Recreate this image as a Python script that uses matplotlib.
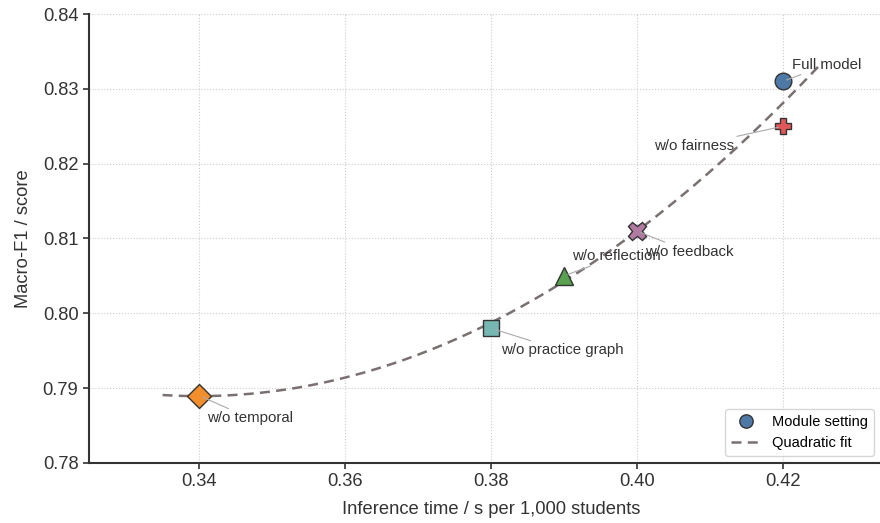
import matplotlib.pyplot as plt
import numpy as np

plt.rcParams['font.family'] = ['Liberation Sans', 'DejaVu Sans']

# data
labels = ['Full model', 'w/o fairness', 'w/o feedback', 'w/o reflection',
          'w/o practice graph', 'w/o temporal']
time_s = [0.42, 0.42, 0.40, 0.39, 0.38, 0.34]
macro_f1 = [0.831, 0.825, 0.811, 0.805, 0.798, 0.789]
markers = ['o', 'P', 'X', '^', 's', 'D']
colors = ['#4e79a7', '#e15759', '#b07aa1', '#59a14f', '#76b7b2', '#f28e2b']
sizes = [12, 12, 13, 13, 12, 12]
# label offsets (points) and alignment
offsets = [(7, 12), (-35, -14), (6, -15), (6, 14), (7, -16), (6, -16.5)]
aligns = ['left', 'right', 'left', 'left', 'left', 'left']

fig = plt.figure(figsize=(8.8, 5.23), dpi=100)
# axes runs a little past the right edge, as in the reference crop
ax = fig.add_axes([0.101, 0.115, 0.9136, 0.858])

# quadratic fit through the points
coef = np.polyfit(time_s, macro_f1, 2)
xs = np.linspace(0.335, 0.425, 200)
ax.plot(xs, np.polyval(coef, xs), '--', color='#7a7070', lw=1.8,
        dashes=(4, 2.5), zorder=2, label='Quadratic fit')

for i in range(len(labels)):
    ax.plot(time_s[i], macro_f1[i], marker=markers[i], ms=sizes[i],
            color=colors[i], mec='#333333', mew=1.0, ls='none', zorder=3,
            label='Module setting' if i == 0 else None)
    ax.annotate(labels[i], (time_s[i], macro_f1[i]), xytext=offsets[i],
                textcoords='offset points', ha=aligns[i], va='center',
                fontsize=10.8, color='#333333',
                arrowprops=dict(arrowstyle='-', color='#aaaaaa', lw=0.8,
                                shrinkA=0, shrinkB=3))

ax.set_xlim(0.3249, 0.4351)
ax.set_ylim(0.78, 0.84)
ax.set_xticks([0.34, 0.36, 0.38, 0.40, 0.42])
ax.set_yticks(np.arange(0.78, 0.8401, 0.01))
ax.xaxis.set_major_formatter(plt.FormatStrFormatter('%.2f'))
ax.yaxis.set_major_formatter(plt.FormatStrFormatter('%.2f'))
ax.tick_params(labelsize=13.2, color='#333333', labelcolor='#333333',
               length=4, width=1.2)
ax.set_xlabel('Inference time / s per 1,000 students', fontsize=13.2,
              color='#333333', labelpad=8)
ax.set_ylabel('Macro-F1 / score', fontsize=13.2, color='#333333', labelpad=8)
ax.grid(True, ls=':', color='#cccccc', lw=0.8)
ax.set_axisbelow(True)
for s in ['top', 'right']:
    ax.spines[s].set_visible(False)
for s in ['left', 'bottom']:
    ax.spines[s].set_color('#333333')
    ax.spines[s].set_linewidth(1.5)

h, l = ax.get_legend_handles_labels()
ax.legend(h[::-1], l[::-1], loc='lower right', fontsize=10.5, frameon=True,
          edgecolor='#cccccc', markerscale=0.8,
          bbox_to_anchor=(0.993, 0.128), bbox_transform=fig.transFigure,
          borderaxespad=0)

fig.savefig('out.png', dpi=100)
